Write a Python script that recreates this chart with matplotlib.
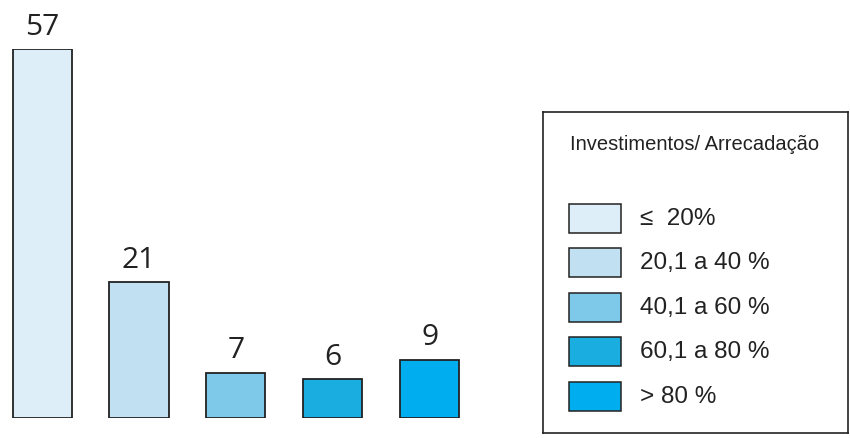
import matplotlib
matplotlib.use("Agg")
from matplotlib import pyplot as plt
from matplotlib.patches import Rectangle

# Number of municipalities per investment / revenue band
faixas = ["≤  20%", "20,1 a 40 %", "40,1 a 60 %", "60,1 a 80 %", "> 80 %"]
municipios = [57, 21, 7, 6, 9]
cores = ["#DDEEF8", "#C1E0F2", "#7EC8EA", "#1AAEE0", "#00AEEF"]
tituloLegenda = "Investimentos/ Arrecadação"

W, H = 850, 439


def px(x0, y0, x1, y1):
    # pixel box (top-left origin) -> figure fraction rect
    return [x0 / W, 1 - y1 / H, (x1 - x0) / W, (y1 - y0) / H]


def main():
    fig = plt.figure(figsize=(W / 100, H / 100), dpi=100)
    fig.patch.set_facecolor("white")

    # Bar area
    ax = fig.add_axes(px(0, 50, 480, 419))
    posicoes = [0, 1, 2, 3, 4]
    barras = ax.bar(posicoes, municipios, width=0.61, color=cores,
                    edgecolor="#222222", linewidth=1.3)
    ax.set_xlim(-0.435, 4.52)
    ax.set_ylim(0, max(municipios))
    ax.axis("off")

    for b, v in zip(barras, municipios):
        ax.annotate(str(v), (b.get_x() + b.get_width() / 2, b.get_height()),
                    xytext=(0, 6), textcoords="offset points",
                    ha="center", va="bottom", fontsize=21.5,
                    family="Open Sans", color="#222222", clip_on=False)

    # Legend box drawn in its own pixel-sized axes
    lg = fig.add_axes(px(543, 113, 848, 434))
    lg.set_xlim(0, 305)
    lg.set_ylim(321, 0)
    lg.set_xticks([])
    lg.set_yticks([])
    for s in lg.spines.values():
        s.set_linewidth(1.2)
        s.set_color("#222222")

    lg.text(27, 32, tituloLegenda, ha="left", va="center",
            fontsize=14.5, family="Liberation Sans", color="#222222")

    for i, (rotulo, cor) in enumerate(zip(faixas, cores)):
        yc = 106 + i * 44.5
        lg.add_patch(Rectangle((26, yc - 14.5), 52, 29, facecolor=cor,
                               edgecolor="#222222", linewidth=1.1))
        lg.text(97, yc, rotulo, ha="left", va="center",
                fontsize=17.5, family="Liberation Sans", color="#222222")

    plt.savefig("out.png", dpi=100)


if __name__ == "__main__":
    main()
